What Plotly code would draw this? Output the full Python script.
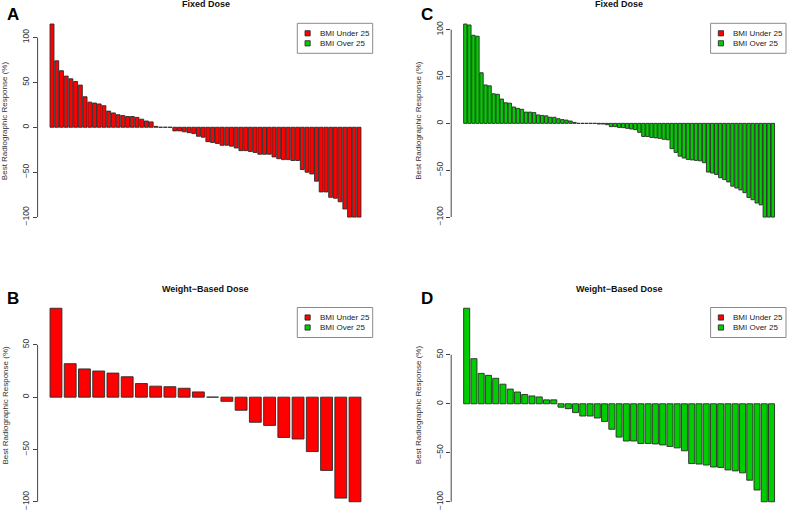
import math
import plotly.graph_objects as go

# best radiographic response (%) per patient, sorted, one array per panel
fixed_under = [115, 74, 63, 57, 54, 51, 47, 34, 28, 27, 26, 24, 18, 16, 14, 13, 12, 12, 11, 9, 7, 6, 1,
               0, 0, 0,
               -4, -4, -5, -6, -7, -10, -11, -16, -17, -18, -20, -20, -21, -23, -26, -26, -27, -28,
               -30, -30, -30, -33, -35, -36, -36, -37, -37, -47, -50, -52, -60, -72, -72, -78, -79,
               -83, -91, -100, -100, -100]
fixed_over = [106, 105, 94, 93, 54, 41, 40, 31.5, 31, 26, 22, 21.5, 17.5, 16, 15, 12, 12, 11.5, 9, 8.5,
              8, 6.5, 6.5, 5, 4, 3.5, 2.5, 1,
              0, 0, 0, 0, 0,
              -0.7, -0.7, -1.4, -3.5, -3.5, -4.3, -4.6, -5.3, -6, -6.7, -9.6, -14, -14, -15, -15.5,
              -16, -17, -17.5, -27, -31, -35, -37, -38.5, -39, -39.5, -40, -42, -52, -53, -54.5,
              -58, -60, -62.5, -67, -69, -71, -74, -79, -81.5, -85, -87, -100, -100, -100]
weight_under = [85, 32, 27, 25, 23, 19.5, 13, 10.5, 10, 8.5, 5, 0, -4, -12.5, -24, -27, -38.5, -40,
                -52, -70, -96.5, -100]
weight_over = [97.5, 46, 31, 29, 26, 20, 15, 12, 9.5, 8, 7, 4, 4, -3.5, -5, -9, -12.5, -12.5, -14.5,
               -18, -26, -34, -38, -38, -40.5, -40.5, -41, -42, -43.5, -45, -48, -61, -61.5, -62.5,
               -64.5, -65, -67.5, -68.5, -70.5, -78, -88, -100, -100]

legend_names = ["BMI Under 25", "BMI Over 25"]
RED = "#FF0000"
GREEN = "#00CD00"
FONT = "Liberation Sans, Arial, sans-serif"
W, H = 787, 511

# panel layout in pixels (R's 2x2 barplot regions)
left_x = (37.6, 373.4)
right_x = (451.2, 787.0)
top_y = (16.3, 224.8)
bot_y = (300.5, 509.5)

panels = [
    ("A", "Fixed Dose", fixed_under, RED, left_x, top_y),
    ("B", "Weight\u2212Based Dose", weight_under, RED, left_x, bot_y),
    ("C", "Fixed Dose", fixed_over, GREEN, right_x, top_y),
    ("D", "Weight\u2212Based Dose", weight_over, GREEN, right_x, bot_y),
]


def px(x, y):
    # pixel position -> paper coordinates
    return x / W, 1 - y / H


fig = go.Figure()
annotations = []
shapes = []

for i, (letter, title, vals, col, px_x, px_y) in enumerate(panels):
    s = "" if i == 0 else str(i + 1)
    n = len(vals)
    xd = [px_x[0] / W, px_x[1] / W]
    yd = [1 - px_y[1] / H, 1 - px_y[0] / H]

    fig.add_trace(go.Bar(
        x=list(range(n)), y=vals, width=1 / 1.2,
        marker=dict(color=col, line=dict(color="#2a2a2a", width=0.9)),
        xaxis="x" + s, yaxis="y" + s, showlegend=False, hoverinfo="skip",
    ))

    # R-style ranges: 4% padding around bars
    half = 1 / 2.4
    w = (n - 1) + 2 * half
    xr = [-half - 0.04 * w, n - 1 + half + 0.04 * w]
    lo, hi = min(min(vals), 0), max(max(vals), 0)
    span = hi - lo
    yr = [lo - 0.04 * span, hi + 0.04 * span]
    top_tick = 50 * math.floor(hi / 50)
    bot_tick = 50 * math.ceil(lo / 50)
    tvals = list(range(bot_tick, top_tick + 1, 50))

    fig.update_layout(**{
        "xaxis" + s: dict(domain=xd, range=xr, visible=False),
        "yaxis" + s: dict(domain=yd, range=yr, anchor="x" + s, showgrid=False, zeroline=False,
                          showline=False, ticks="outside", ticklen=4, tickcolor="#444444",
                          tickwidth=1, tickvals=tvals, tickangle=-90,
                          tickfont=dict(size=8.5, color="#333333", family=FONT)),
    })

    # axis line only spans the tick range, like base R
    shapes.append(dict(type="line", xref="x" + s + " domain", yref="y" + s,
                       x0=0, x1=0, y0=bot_tick, y1=top_tick,
                       line=dict(color="#444444", width=1)))

    cx = (xd[0] + xd[1]) / 2
    annotations.append(dict(text="<b>" + title + "</b>", xref="paper", yref="paper",
                            x=cx, y=1 - (px_y[0] - 12) / H, showarrow=False,
                            xanchor="center", yanchor="middle",
                            font=dict(size=9, color="#111111", family=FONT)))
    annotations.append(dict(text="<b>" + letter + "</b>", xref="paper", yref="paper",
                            x=(px_x[0] - 24.5) / W, y=1 - (px_y[0] - 2) / H, showarrow=False,
                            xanchor="center", yanchor="middle",
                            font=dict(size=17, color="black", family=FONT)))
    annotations.append(dict(text="Best Radiographic Response (%)", xref="paper", yref="paper",
                            x=(px_x[0] - 33) / W, y=(yd[0] + yd[1]) / 2, showarrow=False,
                            textangle=-90, xanchor="center", yanchor="middle",
                            font=dict(size=8, color="#333333", family=FONT)))

    # R-style legend box in the top-right corner of the panel
    box_r = min(px_x[1] - 0.7, W - 1)
    box_l = box_r - 75.4
    box_t = px_y[0] + 7
    box_b = box_t + 30
    x0, y0 = px(box_l, box_b)
    x1, y1 = px(box_r, box_t)
    shapes.append(dict(type="rect", xref="paper", yref="paper", x0=x0, x1=x1, y0=y0, y1=y1,
                       line=dict(color="#8a8a8a", width=1), fillcolor="white", layer="above"))
    for k, (name, c) in enumerate(zip(legend_names, [RED, GREEN])):
        cy = box_t + 10 + 10 * k
        sx = box_l + 10.3
        ax0, ay0 = px(sx - 2.6, cy + 2.6)
        ax1, ay1 = px(sx + 2.6, cy - 2.6)
        shapes.append(dict(type="rect", xref="paper", yref="paper", x0=ax0, x1=ax1, y0=ay0, y1=ay1,
                           line=dict(color="#222222", width=0.8), fillcolor=c, layer="above"))
        tx, ty = px(box_l + 20.5, cy)
        annotations.append(dict(text=name, xref="paper", yref="paper", x=tx, y=ty,
                                showarrow=False, xanchor="left", yanchor="middle",
                                font=dict(size=8, color="#222222", family=FONT)))

fig.update_layout(
    width=W, height=H,
    margin=dict(l=0, r=0, t=0, b=0),
    paper_bgcolor="white", plot_bgcolor="white",
    font=dict(family=FONT),
    annotations=annotations, shapes=shapes,
    barmode="overlay", showlegend=False,
)

fig.write_html("out.html", config={"displayModeBar": False},
               post_script="document.body.style.margin='0';")
